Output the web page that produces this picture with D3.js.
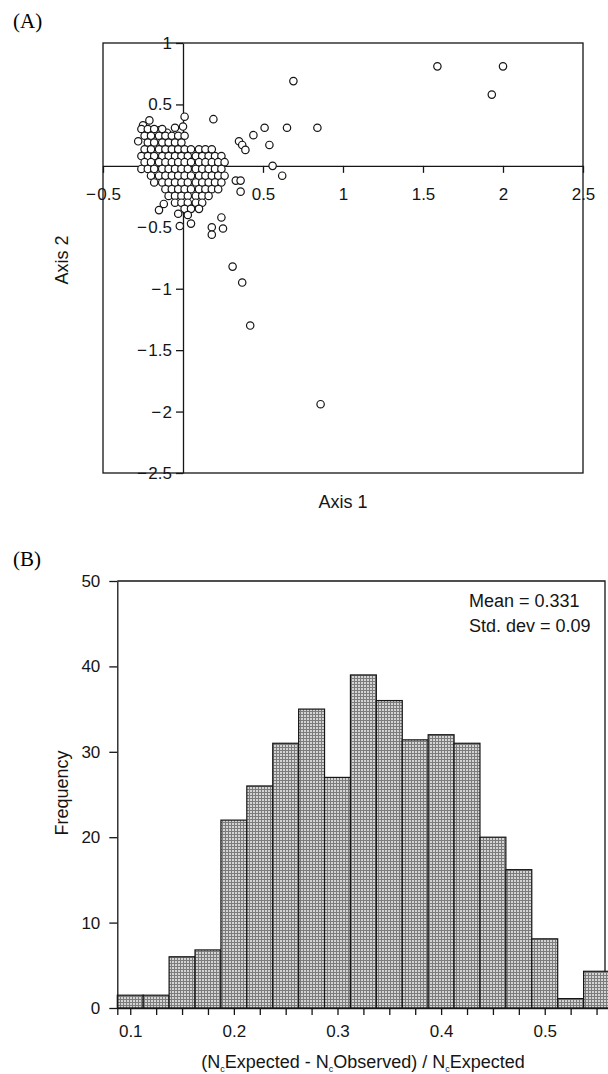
<!DOCTYPE html>
<html>
<head>
<meta charset="utf-8">
<script src="https://cdn.jsdelivr.net/npm/d3@7"></script>
<style>
  body { margin: 0; background: #fff; }
  svg { display: block; font-family: "Liberation Sans", Arial, sans-serif; }
</style>
</head>
<body>
<div class="figure"></div>
<script>
// panel A: points away from the cluster [axis 1, axis 2]
const outlierPoints = [
    [1.59, 0.81], [2.00, 0.81], [1.93, 0.58], [0.69, 0.69],
    [0.84, 0.31], [0.65, 0.31], [0.51, 0.31], [0.44, 0.25],
    [0.54, 0.17], [0.35, 0.20], [0.37, 0.17], [0.39, 0.13],
    [0.19, 0.38], [0.56, 0.00], [0.62, -0.08], [0.33, -0.12],
    [0.36, -0.12], [0.36, -0.21], [0.31, -0.82], [0.37, -0.95],
    [0.42, -1.30], [0.86, -1.94], [-0.12, -0.31], [-0.15, -0.36],
    [-0.03, -0.39], [-0.02, -0.49], [0.05, -0.47], [0.24, -0.42],
    [0.18, -0.50], [0.18, -0.56], [0.25, -0.51], [0.01, 0.40],
    [0.00, 0.32], [-0.05, 0.31], [-0.21, 0.37]
];

// panel A: packed cluster round the origin, read row by row
const clusterPoints = [
    [-0.25, 0.33], [-0.15, 0.29], [-0.10, 0.27],
    [-0.26, 0.30], [-0.22, 0.30], [-0.18, 0.30], [-0.13, 0.30],
    [-0.24, 0.245], [-0.20, 0.245], [-0.15, 0.245], [-0.11, 0.245], [-0.07, 0.245], [-0.03, 0.245], [0.01, 0.245],
    [-0.28, 0.20], [-0.22, 0.19], [-0.18, 0.19], [-0.13, 0.19], [-0.09, 0.19], [-0.05, 0.19], [-0.01, 0.19],
    [-0.24, 0.135], [-0.20, 0.135], [-0.15, 0.135], [-0.11, 0.135], [-0.07, 0.135], [-0.03, 0.135],
    [0.01, 0.135], [0.05, 0.135], [0.10, 0.135], [0.14, 0.135], [0.18, 0.135],
    [-0.26, 0.08], [-0.22, 0.08], [-0.18, 0.08], [-0.13, 0.08], [-0.09, 0.08], [-0.05, 0.08], [-0.01, 0.08],
    [0.03, 0.08], [0.08, 0.08], [0.12, 0.08], [0.16, 0.08], [0.20, 0.08], [0.24, 0.08],
    [-0.24, 0.03], [-0.20, 0.03], [-0.15, 0.03], [-0.11, 0.03], [-0.07, 0.03], [-0.03, 0.03], [0.01, 0.03],
    [0.05, 0.03], [0.10, 0.03], [0.14, 0.03], [0.18, 0.03], [0.22, 0.03], [0.26, 0.03],
    [-0.26, -0.025], [-0.22, -0.025], [-0.18, -0.025], [-0.13, -0.025], [-0.09, -0.025], [-0.05, -0.025], [-0.01, -0.025],
    [0.03, -0.025], [0.08, -0.025], [0.12, -0.025], [0.16, -0.025], [0.20, -0.025], [0.24, -0.025],
    [-0.20, -0.08], [-0.15, -0.08], [-0.11, -0.08], [-0.07, -0.08], [-0.03, -0.08], [0.01, -0.08],
    [0.05, -0.08], [0.10, -0.08], [0.14, -0.08], [0.18, -0.08], [0.22, -0.08], [0.26, -0.08],
    [-0.18, -0.135], [-0.13, -0.135], [-0.09, -0.135], [-0.05, -0.135], [-0.01, -0.135], [0.03, -0.135],
    [0.08, -0.135], [0.12, -0.135], [0.16, -0.135], [0.20, -0.135], [0.24, -0.135],
    [-0.11, -0.19], [-0.07, -0.19], [-0.03, -0.19], [0.01, -0.19], [0.05, -0.19], [0.10, -0.19],
    [0.14, -0.19], [0.18, -0.19], [0.22, -0.19],
    [-0.09, -0.245], [-0.05, -0.245], [-0.01, -0.245], [0.03, -0.245], [0.08, -0.245], [0.12, -0.245], [0.16, -0.245],
    [-0.05, -0.30], [-0.01, -0.30], [0.03, -0.30], [0.08, -0.30], [0.12, -0.30],
    [0.01, -0.35], [0.05, -0.35], [0.10, -0.35],
    [0.03, -0.40]
];

const scatterXTicks = [-0.5, 0.5, 1, 1.5, 2, 2.5];
const scatterYTicks = [1, 0.5, -0.5, -1, -1.5, -2, -2.5];

// panel B: histogram bins (centre of bin, frequency)
const binCenters = [0.1, 0.125, 0.15, 0.175, 0.2, 0.225, 0.25, 0.275, 0.3, 0.325,
    0.35, 0.375, 0.4, 0.425, 0.45, 0.475, 0.5, 0.525, 0.55];
const binCounts = [1.5, 1.5, 6, 6.8, 22, 26, 31, 35, 27, 39,
    36, 31.4, 32, 31, 20, 16.2, 8.1, 1.1, 4.3];
const binWidth = 0.025;
const histYTicks = [0, 10, 20, 30, 40, 50];
const histXLabels = [0.1, 0.2, 0.3, 0.4, 0.5];
const statLines = ["Mean = 0.331", "Std. dev = 0.09"];

const width = 608;
const height = 1074;
const ink = "#151515";

// minus sign with a small gap, as in the print
const fmt = d => d < 0 ? "\u2212\u200a" + Math.abs(d) : String(d);

let svg = d3.select(".figure")
.append("svg")
.attr("width", width)
.attr("height", height);

// stippled grey fill of the bars
const pat = svg.append("defs")
.append("pattern")
.attr("id", "stipple")
.attr("patternUnits", "userSpaceOnUse")
.attr("width", 3)
.attr("height", 3);
pat.append("rect").attr("width", 3).attr("height", 3).attr("fill", "#d4d4d4");
pat.append("path").attr("d", "M0,0.5H3M0.5,0V3").attr("stroke", "#7c7c7c").attr("stroke-width", 1);

// ---------- panel A ----------
const sx = d3.scaleLinear().domain([-0.5, 2.5]).range([103, 583]);
const sy = d3.scaleLinear().domain([-2.5, 1]).range([473, 43]);

svg.append("text")
.attr("x", 13)
.attr("y", 28)
.attr("font-family", "'Liberation Serif', 'Times New Roman', serif")
.attr("font-size", 21)
.text("(A)");

svg.append("rect")
.attr("x", sx(-0.5))
.attr("y", sy(1))
.attr("width", sx(2.5) - sx(-0.5))
.attr("height", sy(-2.5) - sy(1))
.attr("fill", "none")
.attr("stroke", ink)
.attr("stroke-width", 1.3);

const axX = svg.append("g")
.attr("transform", `translate(0,${sy(0)})`)
.call(d3.axisBottom(sx).tickValues(scatterXTicks).tickSize(7).tickSizeOuter(0).tickPadding(15).tickFormat(fmt));

const axY = svg.append("g")
.attr("transform", `translate(${sx(0)},0)`)
.call(d3.axisLeft(sy).tickValues(scatterYTicks).tickSize(7).tickSizeOuter(0).tickPadding(4).tickFormat(fmt));

[axX, axY].forEach(ax => {
    ax.selectAll("path, line").attr("stroke", ink).attr("stroke-width", 1.3);
    ax.selectAll("text").attr("font-size", 17).attr("fill", ink)
    .attr("font-family", "'Liberation Sans', Arial, sans-serif");
});

// cluster first, outliers on top
svg.append("g")
.selectAll("circle")
.data(clusterPoints.concat(outlierPoints))
.enter()
.append("circle")
.attr("cx", d => sx(d[0]))
.attr("cy", d => sy(d[1]))
.attr("r", 3.7)
.attr("fill", "#fff")
.attr("stroke", ink)
.attr("stroke-width", 1.2);

svg.append("text")
.attr("transform", "translate(62,260) rotate(-90)")
.attr("text-anchor", "middle")
.attr("dy", "0.35em")
.attr("font-size", 18)
.attr("fill", ink)
.text("Axis 2");

svg.append("text")
.attr("x", 343)
.attr("y", 508)
.attr("text-anchor", "middle")
.attr("font-size", 18)
.attr("fill", ink)
.text("Axis 1");

// ---------- panel B ----------
const hx = d3.scaleLinear().domain([0.0875, 0.5625]).range([117.3, 609.5]);
const hy = d3.scaleLinear().domain([0, 50]).range([1008, 581]);
const histRight = 605;

svg.append("text")
.attr("x", 13)
.attr("y", 566)
.attr("font-family", "'Liberation Serif', 'Times New Roman', serif")
.attr("font-size", 21)
.text("(B)");

// top and right frame lines
svg.append("path")
.attr("d", `M${hx(0.0875)},${hy(50)}H${histRight}V${hy(0)}`)
.attr("fill", "none")
.attr("stroke", ink)
.attr("stroke-width", 1.3);

svg.append("g")
.selectAll("rect")
.data(binCenters)
.enter()
.append("rect")
.attr("x", d => hx(d - binWidth / 2))
.attr("y", (d, i) => hy(binCounts[i]))
.attr("width", d => hx(d + binWidth / 2) - hx(d - binWidth / 2))
.attr("height", (d, i) => hy(0) - hy(binCounts[i]))
.attr("fill", "url(#stipple)")
.attr("stroke", ink)
.attr("stroke-width", 1.2);

const hAxX = svg.append("g")
.attr("transform", `translate(0,${hy(0)})`)
.call(d3.axisBottom(hx)
    .tickValues([0.0875, ...binCenters])
    .tickSize(7)
    .tickSizeOuter(0)
    .tickPadding(10)
    .tickFormat(d => histXLabels.some(v => Math.abs(v - d) < 1e-9) ? d3.format(".1f")(d) : ""));

const hAxY = svg.append("g")
.attr("transform", `translate(${hx(0.0875)},0)`)
.call(d3.axisLeft(hy).tickValues(histYTicks).tickSize(8).tickSizeOuter(0).tickPadding(9));

[hAxX, hAxY].forEach(ax => {
    ax.selectAll("path, line").attr("stroke", ink).attr("stroke-width", 1.3);
    ax.selectAll("text").attr("font-size", 17).attr("fill", ink)
    .attr("font-family", "'Liberation Sans', Arial, sans-serif");
});

svg.append("g")
.selectAll("text")
.data(statLines)
.enter()
.append("text")
.attr("x", 469)
.attr("y", (d, i) => 607 + i * 25)
.attr("font-size", 18)
.attr("fill", ink)
.text(d => d);

svg.append("text")
.attr("transform", "translate(62,793) rotate(-90)")
.attr("text-anchor", "middle")
.attr("dy", "0.35em")
.attr("font-size", 18)
.attr("fill", ink)
.text("Frequency");

// x title with subscript c; dy moves down for each c and back up after it
const xTitle = svg.append("text")
.attr("x", 363)
.attr("y", 1068)
.attr("text-anchor", "middle")
.attr("font-size", 18)
.attr("fill", ink);

const parts = ["(N", "c", "Expected - N", "c", "Observed) / N", "c", "Expected"];
parts.forEach((p, i) => {
    const isSub = i % 2 === 1;
    xTitle.append("tspan")
    .attr("font-size", isSub ? 9 : 18)
    .attr("dy", i === 0 ? 0 : (isSub ? 4 : -4))
    .text(p);
});
</script>
</body>
</html>
